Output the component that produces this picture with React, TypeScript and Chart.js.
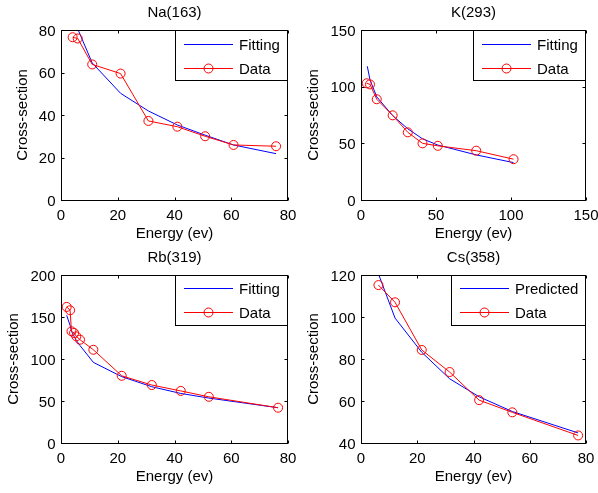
import React, { useEffect, useRef } from "react";
import { Chart, registerables } from "chart.js";
Chart.register(...registerables);

const FONT = '15px "Liberation Sans", Arial, sans-serif';

// ---- Na(163) ----
const naDataX = [4.1, 5.9, 11.0, 21.0, 30.8, 41.0, 50.8, 60.8, 75.8];
const naDataY = [76.6, 76.0, 63.8, 59.5, 37.2, 34.5, 30.0, 25.9, 25.3];
const naFitX = [4.1, 5.9, 11.0, 21.0, 30.8, 41.0, 50.8, 60.8, 75.8];
const naFitY = [87, 80.5, 64.5, 50.2, 41.9, 35.3, 30.5, 25.9, 21.8];

// ---- K(293) ----
const kDataX = [3.8, 6.0, 10.5, 21.1, 31.2, 41.0, 51.2, 76.8, 101.7];
const kDataY = [103, 102, 88.9, 74.7, 59.7, 50.0, 47.8, 43.5, 36.0];
const kFitX = [4.2, 6.0, 10.5, 21.1, 31.2, 41.0, 51.2, 76.8, 101.7];
const kFitY = [118, 106, 91, 74.5, 62.8, 54.0, 48.5, 39.8, 33.0];

// ---- Rb(319) ----
const rbDataX = [2.0, 3.2, 3.7, 4.6, 5.4, 6.7, 11.4, 21.4, 32.0, 42.2, 52.1, 76.5];
const rbDataY = [162, 158, 133, 131, 127, 123, 111, 80, 69, 62, 55, 42];
const rbFitX = [2.0, 3.2, 3.7, 4.6, 5.4, 6.7, 11.4, 21.4, 32.0, 42.2, 52.1, 76.5];
const rbFitY = [152, 140, 133, 127, 122, 116, 96, 79, 67, 59, 53.5, 42];

// ---- Cs(358) ----
const csDataX = [6.2, 12.1, 21.6, 31.5, 42.0, 53.8, 77.2];
const csDataY = [115.2, 107.0, 84.3, 73.8, 60.4, 54.6, 43.6];
const csFitX = [6.2, 12.1, 21.6, 31.5, 42.0, 53.8, 77.2];
const csFitY = [120.5, 99.5, 83.2, 70.6, 62.0, 55.0, 44.8];

// ---- tick labels ----
const ticks0to80 = [0, 20, 40, 60, 80];
const ticks0to150 = [0, 50, 100, 150];
const ticks0to200 = [0, 50, 100, 150, 200];
const ticks40to120 = [40, 60, 80, 100, 120];

const X_LABEL = "Energy (ev)";
const Y_LABEL = "Cross-section";
const DATA_LABEL = "Data";
const RED = "#ff0000";
const BLUE = "#0000ff";

type PanelDef = {
  title: string;
  fitLabel: string;
  dataX: number[];
  dataY: number[];
  fitX: number[];
  fitY: number[];
  xTicks: number[];
  yTicks: number[];
  canvas: [number, number, number, number];
  plot: [number, number, number, number];
  legendRows: [number, number];
};

const panels: PanelDef[] = [
  {
    title: "Na(163)", fitLabel: "Fitting",
    dataX: naDataX, dataY: naDataY, fitX: naFitX, fitY: naFitY,
    xTicks: ticks0to80, yTicks: ticks0to80,
    canvas: [0, 0, 299, 246], plot: [61, 30, 288, 200], legendRows: [14, 38],
  },
  {
    title: "K(293)", fitLabel: "Fitting",
    dataX: kDataX, dataY: kDataY, fitX: kFitX, fitY: kFitY,
    xTicks: ticks0to150, yTicks: ticks0to150,
    canvas: [299, 0, 299, 246], plot: [361, 30, 586, 200], legendRows: [14, 38],
  },
  {
    title: "Rb(319)", fitLabel: "Fitting",
    dataX: rbDataX, dataY: rbDataY, fitX: rbFitX, fitY: rbFitY,
    xTicks: ticks0to80, yTicks: ticks0to200,
    canvas: [0, 246, 299, 247], plot: [61, 275, 288, 443], legendRows: [13, 37],
  },
  {
    title: "Cs(358)", fitLabel: "Predicted",
    dataX: csDataX, dataY: csDataY, fitX: csFitX, fitY: csFitY,
    xTicks: ticks0to80, yTicks: ticks40to120,
    canvas: [299, 246, 299, 247], plot: [361, 275, 586, 443], legendRows: [13, 37],
  },
];

function zip(xs: number[], ys: number[]) {
  return xs.map((x, i) => ({ x, y: ys[i] }));
}

function makeDecor(p: PanelDef) {
  return {
    id: "matlabDecor",
    afterDraw(chart: any) {
      const ctx: CanvasRenderingContext2D = chart.ctx;
      const { left, top, right, bottom } = chart.chartArea;
      const xs = chart.scales.x;
      const ys = chart.scales.y;
      ctx.save();
      ctx.setLineDash([]);
      ctx.globalAlpha = 1;
      ctx.strokeStyle = "#000";
      ctx.fillStyle = "#000";
      ctx.lineWidth = 1;
      // box
      ctx.strokeRect(left + 0.5, top + 0.5, right - left - 1, bottom - top);
      // ticks
      const TL = 3;
      ctx.beginPath();
      for (const v of p.xTicks) {
        const px = Math.round(xs.getPixelForValue(v)) + 0.5;
        ctx.moveTo(px, bottom + 0.5);
        ctx.lineTo(px, bottom + 0.5 - TL);
        ctx.moveTo(px, top + 0.5);
        ctx.lineTo(px, top + 0.5 + TL);
      }
      for (const v of p.yTicks) {
        const py = Math.round(ys.getPixelForValue(v)) + 0.5;
        ctx.moveTo(left + 0.5, py);
        ctx.lineTo(left + 0.5 + TL, py);
        ctx.moveTo(right - 0.5, py);
        ctx.lineTo(right - 0.5 - TL, py);
      }
      ctx.stroke();
      ctx.font = FONT;
      ctx.textBaseline = "alphabetic";
      // x tick labels
      ctx.textAlign = "center";
      for (const v of p.xTicks) {
        ctx.fillText(String(v), xs.getPixelForValue(v), bottom + 19.5);
      }
      // y tick labels
      ctx.textAlign = "right";
      let maxW = 0;
      for (const v of p.yTicks) {
        const s = String(v);
        maxW = Math.max(maxW, ctx.measureText(s).width);
        ctx.fillText(s, left - 5.5, ys.getPixelForValue(v) + 5.5);
      }
      // title
      ctx.textAlign = "center";
      ctx.fillText(p.title, (left + right) / 2, top - 13);
      // x label
      ctx.fillText(X_LABEL, (left + right) / 2, bottom + 38);
      // y label
      ctx.save();
      ctx.translate(left - 5.5 - maxW - 12, (top + bottom) / 2);
      ctx.rotate(-Math.PI / 2);
      ctx.fillText(Y_LABEL, 0, 0);
      ctx.restore();
      // legend
      ctx.textAlign = "left";
      const tw = Math.max(ctx.measureText(p.fitLabel).width, ctx.measureText(DATA_LABEL).width);
      const bw = Math.round(64 + tw + 8);
      const bh = 51;
      const bx = Math.round(right - bw);
      const by = Math.round(top);
      ctx.fillStyle = "#fff";
      ctx.fillRect(bx, by, bw, bh);
      ctx.strokeStyle = "#000";
      ctx.strokeRect(bx + 0.5, by + 0.5, bw - 1, bh - 1);
      const r1 = by + p.legendRows[0];
      const r2 = by + p.legendRows[1];
      ctx.fillStyle = BLUE;
      ctx.fillRect(bx + 9, r1, 49, 1);
      ctx.fillStyle = RED;
      ctx.fillRect(bx + 9, r2, 49, 1);
      ctx.strokeStyle = RED;
      ctx.lineWidth = 1;
      ctx.beginPath();
      ctx.arc(bx + 33.5, r2 + 0.5, 4.5, 0, Math.PI * 2);
      ctx.stroke();
      ctx.fillStyle = "#000";
      ctx.fillText(p.fitLabel, bx + 64, r1 + 5.5);
      ctx.fillText(DATA_LABEL, bx + 64, r2 + 5.5);
      ctx.restore();
    },
  };
}

function Panel({ p }: { p: PanelDef }) {
  const ref = useRef<HTMLCanvasElement | null>(null);
  useEffect(() => {
    if (!ref.current) return;
    const [cx, cy, cw, ch] = p.canvas;
    const [pl, pt, pr, pb] = p.plot;
    const chart = new Chart(ref.current, {
      type: "scatter",
      data: {
        datasets: [
          {
            label: DATA_LABEL,
            data: zip(p.dataX, p.dataY),
            showLine: true,
            borderColor: RED,
            backgroundColor: "rgba(0,0,0,0)",
            borderWidth: 1,
            pointRadius: 4.5,
            pointBorderWidth: 1,
            pointBorderColor: RED,
            pointBackgroundColor: "rgba(0,0,0,0)",
            pointStyle: "circle",
          },
          {
            label: p.fitLabel,
            data: zip(p.fitX, p.fitY),
            showLine: true,
            borderColor: BLUE,
            backgroundColor: "rgba(0,0,0,0)",
            borderWidth: 1,
            pointRadius: 0,
          },
        ],
      },
      options: {
        animation: false,
        responsive: false,
        devicePixelRatio: 1,
        events: [],
        layout: {
          padding: { left: pl - cx, top: pt - cy, right: cx + cw - pr, bottom: cy + ch - pb },
        },
        plugins: { legend: { display: false }, title: { display: false }, tooltip: { enabled: false } },
        scales: {
          x: {
            type: "linear",
            display: false,
            min: p.xTicks[0],
            max: p.xTicks[p.xTicks.length - 1],
          },
          y: {
            type: "linear",
            display: false,
            min: p.yTicks[0],
            max: p.yTicks[p.yTicks.length - 1],
          },
        },
      },
      plugins: [makeDecor(p)],
    } as any);
    return () => chart.destroy();
  }, [p]);
  const [cx, cy, cw, ch] = p.canvas;
  return (
    <canvas
      ref={ref}
      width={cw}
      height={ch}
      style={{ position: "absolute", left: cx, top: cy, width: cw, height: ch }}
    />
  );
}

export default function App() {
  return (
    <div
      style={{
        position: "fixed",
        left: 0,
        top: 0,
        width: 598,
        height: 493,
        background: "#fff",
        overflow: "hidden",
      }}
    >
      {panels.map((p) => (
        <Panel key={p.title} p={p} />
      ))}
    </div>
  );
}
